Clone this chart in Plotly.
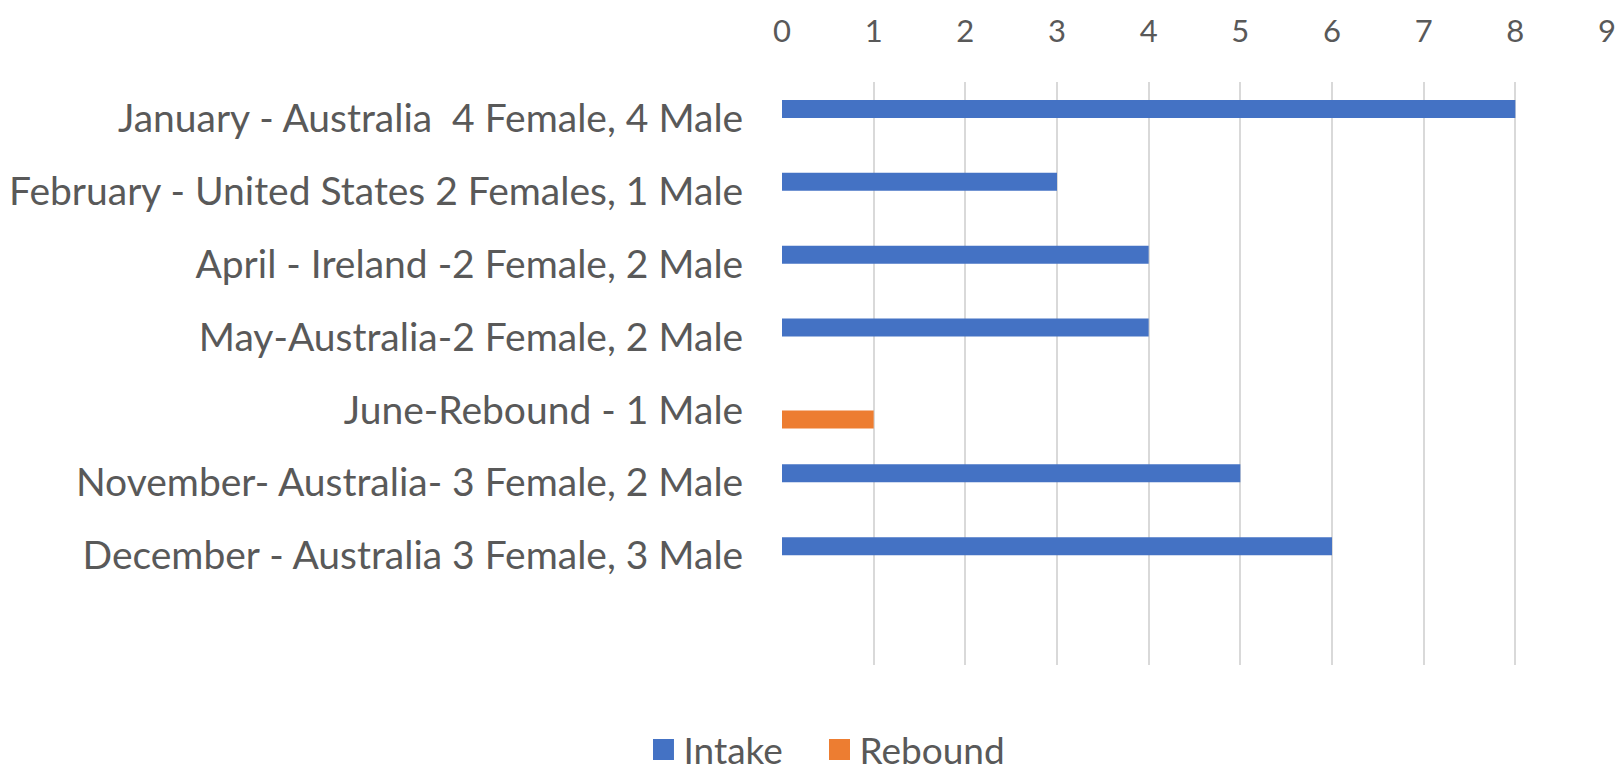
import plotly.graph_objects as go

categories = [
    "January - Australia \u00a04 Female, 4 Male",
    "February - United States 2 Females, 1 Male",
    "April - Ireland -2 Female, 2 Male",
    "May-Australia-2 Female, 2 Male",
    "June-Rebound - 1 Male",
    "November- Australia- 3 Female, 2 Male",
    "December - Australia 3 Female, 3 Male",
]
intake = [8, 3, 4, 4, None, 5, 6]
rebound = [None, None, None, None, 1, None, None]
x_ticks = list(range(0, 10))

FONT = "Lato"
TXT = "#595959"
BLUE = "#4472C4"
ORANGE = "#ED7D31"

fig = go.Figure()
fig.add_trace(go.Bar(name="Intake", y=categories, x=intake, orientation="h",
                     marker=dict(color=BLUE, line=dict(width=0)), showlegend=False))
fig.add_trace(go.Bar(name="Rebound", y=categories, x=rebound, orientation="h",
                     marker=dict(color=ORANGE, line=dict(width=0)), showlegend=False))
# legend entries with larger square keys
for nm, col, lg in (("Intake", BLUE, "legend"), ("Rebound", ORANGE, "legend2")):
    fig.add_trace(go.Scatter(name=nm, x=[None], y=[None], mode="markers",
                             marker=dict(symbol="square", size=16, color=col,
                                         line=dict(width=5, color=col)),
                             showlegend=True, legend=lg, hoverinfo="skip"))

leg_common = dict(orientation="h", xref="container", yref="container",
                  y=0.039, xanchor="left", yanchor="middle",
                  font=dict(size=37, color=TXT, family=FONT), itemsizing="trace",
                  itemwidth=30, bgcolor="rgba(0,0,0,0)")

fig.update_layout(
    width=1624, height=772,
    paper_bgcolor="white", plot_bgcolor="white",
    margin=dict(l=774, r=25, t=74, b=115, autoexpand=False),
    barmode="group", bargap=0.48, bargroupgap=0.05,
    font=dict(family=FONT, color=TXT, size=37),
    showlegend=True,
    legend=dict(x=0.3913, **leg_common),
    legend2=dict(x=0.4997, **leg_common),
    xaxis=dict(side="top", range=[0, 9], tickvals=x_ticks, showgrid=True,
               gridcolor="#D9D9D9", gridwidth=2, zeroline=False, showline=False,
               ticks="outside", ticklen=27, tickcolor="rgba(0,0,0,0)",
               tickfont=dict(size=31, color=TXT, family=FONT)),
    yaxis=dict(type="category", range=[7.5, -0.5], showgrid=False, zeroline=False,
               showline=False, ticks="outside", ticklen=30, tickcolor="rgba(0,0,0,0)",
               tickfont=dict(size=39, color=TXT, family=FONT)),
)

fig.write_html("out.html")
